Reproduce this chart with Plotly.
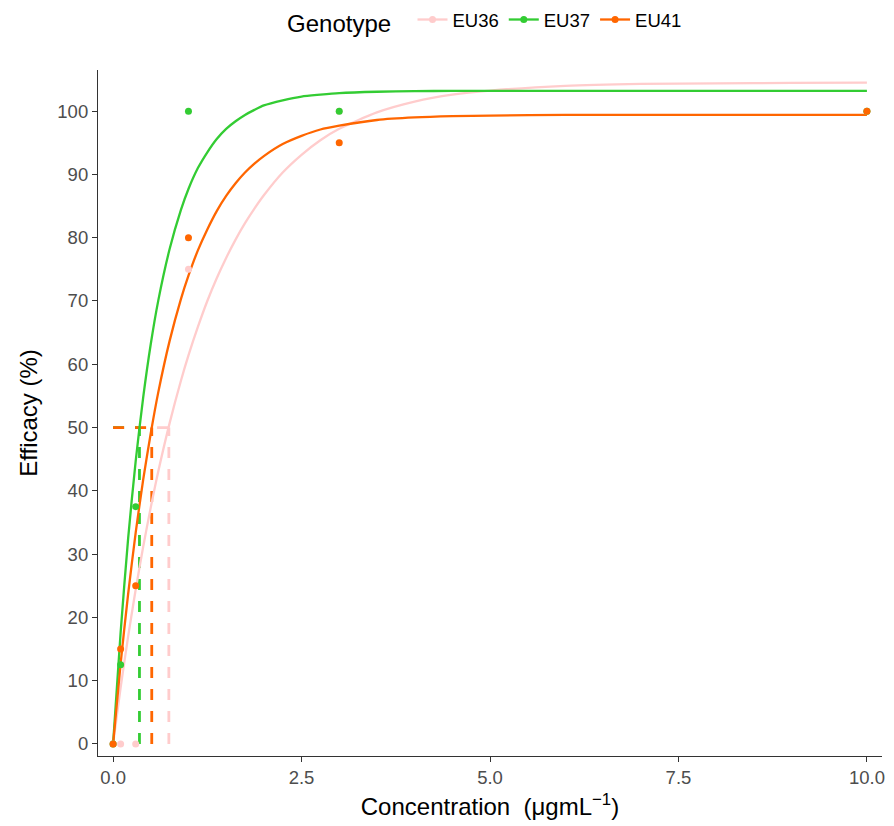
import plotly.graph_objects as go

# ---- data ----
genotypes = ["EU36", "EU37", "EU41"]
line_colors = ["#FFCCCC", "#33CC33", "#FF6600"]

conc = [0, 0.1, 0.3, 1, 3, 10]
eff_eu36 = [0, 0, 0, 75, 100, 100]
eff_eu37 = [0, 12.5, 37.5, 100, 100, 100]
eff_eu41 = [0, 15, 25, 80, 95, 100]

# fitted curves
curve_x = [0, 0.1, 0.2, 0.3, 0.4, 0.5, 0.6, 0.75, 0.9, 1.0, 1.125, 1.25, 1.375, 1.5, 1.625, 1.75,
           1.875, 2.0, 2.25, 2.5, 2.75, 3.0, 3.5, 4.0, 4.5, 5.0, 6.0, 7.0, 8.0, 9.0, 10.0]
curve_eu36 = [0, 8.9, 17.0, 24.4, 31.2, 37.4, 43.1, 50.7, 57.4, 61.4, 65.9, 70.0, 73.6, 76.8, 79.7, 82.3,
              84.6, 86.7, 90.3, 93.1, 95.4, 97.2, 99.8, 101.5, 102.6, 103.25, 104.0, 104.3, 104.4, 104.45, 104.5]
curve_eu37 = [0, 17.6, 32.5, 44.7, 54.8, 63.2, 70.1, 78.2, 84.4, 87.7, 91.0, 93.5, 95.6, 97.2, 98.4, 99.4,
              100.2, 100.9, 101.7, 102.3, 102.6, 102.85, 103.06, 103.15, 103.2, 103.2, 103.2, 103.2, 103.2, 103.2, 103.2]
curve_eu41 = [0, 12.7, 23.7, 33.4, 41.8, 49.1, 55.6, 63.7, 70.3, 74.0, 78.0, 81.3, 84.2, 86.6, 88.6, 90.3,
              91.7, 92.9, 94.8, 96.1, 97.1, 97.7, 98.6, 99.0, 99.2, 99.3, 99.4, 99.4, 99.4, 99.4, 99.4]

ec50 = [0.74, 0.35, 0.513]
ec_level = 50

x_ticks = [0, 2.5, 5, 7.5, 10]
x_tick_labels = ["0.0", "2.5", "5.0", "7.5", "10.0"]
y_ticks = list(range(0, 101, 10))

points = [eff_eu36, eff_eu37, eff_eu41]
curves = [curve_eu36, curve_eu37, curve_eu41]

FONT = "Liberation Sans, Arial, sans-serif"

fig = go.Figure()

# dashed EC50 guides
for g, col, e in zip(genotypes, line_colors, ec50):
    fig.add_trace(go.Scatter(x=[0, e], y=[ec_level, ec_level], mode="lines",
                             line=dict(color=col, width=2.8, dash="11px,11px"),
                             showlegend=False, hoverinfo="skip"))
    fig.add_trace(go.Scatter(x=[e, e], y=[0, ec_level], mode="lines",
                             line=dict(color=col, width=2.8, dash="11px,11px"),
                             showlegend=False, hoverinfo="skip"))

# fitted curves
for g, col, cy in zip(genotypes, line_colors, curves):
    fig.add_trace(go.Scatter(x=curve_x, y=cy, mode="lines", line_shape="spline",
                             line=dict(color=col, width=2.3, smoothing=0.7), showlegend=False))

# observed points
for g, col, py in zip(genotypes, line_colors, points):
    fig.add_trace(go.Scatter(x=conc, y=py, mode="markers",
                             marker=dict(color=col, size=7), showlegend=False))

# legend entries
for g, col in zip(genotypes, line_colors):
    fig.add_trace(go.Scatter(x=[None], y=[None], mode="lines+markers", name=g,
                             line=dict(color=col, width=2.3),
                             marker=dict(color=col, size=7)))

axis_common = dict(
    showgrid=False, zeroline=False, showline=True, linecolor="#333333", linewidth=1.2,
    ticks="outside", ticklen=5, tickcolor="#333333", tickwidth=1.2,
    tickfont=dict(family=FONT, size=18.5, color="#4D4D4D"),
    mirror=False,
)

fig.update_layout(
    width=894, height=826,
    margin=dict(l=98, r=12, t=70, b=70, autoexpand=False),
    paper_bgcolor="white", plot_bgcolor="white",
    font=dict(family=FONT, color="black"),
    xaxis=dict(range=[-0.2, 10.2], tickvals=x_ticks, ticktext=x_tick_labels,
               title=dict(text="Concentration  (μgmL<sup>−1</sup>)",
                          font=dict(family=FONT, size=24, color="black"), standoff=10),
               **axis_common),
    yaxis=dict(range=[-1.9, 106.5], tickvals=y_ticks,
               title=dict(text="Efficacy (%)",
                          font=dict(family=FONT, size=24, color="black"), standoff=12),
               **axis_common),
    legend=dict(orientation="h", x=0.495, xanchor="center", y=1.07, yanchor="middle",
                title=dict(text="Genotype  ", font=dict(family=FONT, size=24, color="black")),
                font=dict(family=FONT, size=18.5, color="black"),
                itemwidth=30, tracegroupgap=0, bgcolor="rgba(0,0,0,0)"),
)

fig.write_html("out.html")
